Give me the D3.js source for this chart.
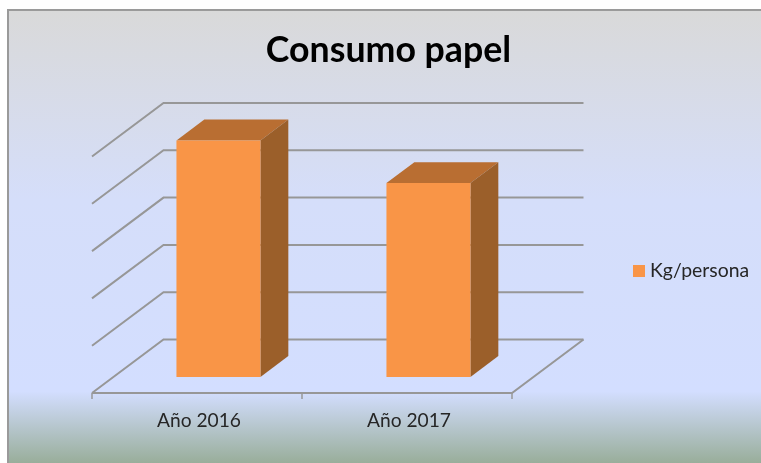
<!DOCTYPE html>
<html lang="en">
<head>
<meta charset="UTF-8">
<title>Consumo papel</title>
<script src="https://cdnjs.cloudflare.com/ajax/libs/d3/7.8.5/d3.min.js"></script>
<style>
    html, body { margin: 0; padding: 0; background: #fff; }
    svg { display: block; }
    text { font-family: Lato, "Open Sans", sans-serif; }
</style>
</head>
<body>
<script>
    // values, the axis has no labels so units are gridline steps
    const title = "Consumo papel"
    const seriesName = "Kg/persona"
    const categories = ["Año 2016", "Año 2017"]
    const values = [5.0, 4.1]
    const gridTicks = [0, 1, 2, 3, 4, 5]

    const width = 761
    const height = 463

    const svg = d3.select("body").append("svg")
        .attr("width", width)
        .attr("height", height)

    const defs = svg.append("defs")
    const bg = defs.append("linearGradient")
        .attr("id", "bg")
        .attr("x1", 0).attr("y1", 0).attr("x2", 0).attr("y2", 1)
    bg.append("stop").attr("offset", 0).attr("stop-color", "#d9d9d9")
    bg.append("stop").attr("offset", 0.42).attr("stop-color", "#d5defa")
    bg.append("stop").attr("offset", 0.84).attr("stop-color", "#d3deff")
    bg.append("stop").attr("offset", 1).attr("stop-color", "#98ad99")

    const soft = defs.append("filter").attr("id", "soft")
    soft.append("feGaussianBlur").attr("stdDeviation", 0.5)

    svg.append("rect")
        .attr("x", 8).attr("y", 10)
        .attr("width", width - 7).attr("height", height - 9)
        .attr("fill", "url(#bg)")
        .attr("stroke", "#9a9a9a")
        .attr("stroke-width", 2)

    // oblique projection: x along the floor front, v up, d from front (0) to back (1)
    const x = d3.scaleBand().domain(categories).range([92, 512])
    const y = d3.scaleLinear().domain([0, 5]).range([393, 156.5])
    const depth = d3.scaleLinear().domain([0, 1]).range([0, 71.5])
    const rise = d3.scaleLinear().domain([0, 1]).range([0, 53.5])
    const project = (px, v, d) => [px + depth(d), y(v) - rise(d)]
    const line = d3.line()

    const chart = svg.append("g").attr("filter", "url(#soft)")
    const grid = chart.append("g")
        .attr("fill", "none")
        .attr("stroke", "#979797")
        .attr("stroke-width", 2)

    const x0 = x.range()[0]
    const x1 = x.range()[1]

    // side wall and back wall gridlines
    grid.selectAll("path.grid")
        .data(gridTicks)
        .join("path")
        .attr("class", "grid")
        .attr("d", v => line([project(x0, v, 0), project(x0, v, 1), project(x1, v, 1)]))

    // floor edges
    grid.append("path").attr("d", line([project(x0, 0, 0), project(x1, 0, 0), project(x1, 0, 1)]))

    // category ticks
    grid.selectAll("path.tick")
        .data([x0, x0 + x.bandwidth(), x1])
        .join("path")
        .attr("class", "tick")
        .attr("stroke-width", 1.5)
        .attr("d", px => line([[px, y(0)], [px, y(0) + 6]]))

    // bars
    const barW = 84
    const dFront = 0.3
    const dBack = 0.69
    const bars = chart.selectAll("g.bar")
        .data(categories.map((c, i) => ({ c, v: values[i] })))
        .join("g")
        .attr("class", "bar")

    const left = d => x(d.c) + (x.bandwidth() - barW) / 2
    bars.append("path")
        .attr("fill", "#b96e30")
        .attr("d", d => line([
            project(left(d), d.v, dFront), project(left(d) + barW, d.v, dFront),
            project(left(d) + barW, d.v, dBack), project(left(d), d.v, dBack)
        ]) + "Z")
    bars.append("path")
        .attr("fill", "#9b5f2a")
        .attr("d", d => line([
            project(left(d) + barW, 0, dFront), project(left(d) + barW, 0, dBack),
            project(left(d) + barW, d.v, dBack), project(left(d) + barW, d.v, dFront)
        ]) + "Z")
    bars.append("path")
        .attr("fill", "#f99546")
        .attr("d", d => line([
            project(left(d), 0, dFront), project(left(d) + barW, 0, dFront),
            project(left(d) + barW, d.v, dFront), project(left(d), d.v, dFront)
        ]) + "Z")

    const labels = svg.append("g").attr("filter", "url(#soft)")

    labels.append("text")
        .attr("x", 388.5).attr("y", 62)
        .attr("text-anchor", "middle")
        .attr("font-size", 35.7)
        .attr("font-weight", 700)
        .attr("fill", "#000")
        .text(title)

    labels.selectAll("text.cat")
        .data(categories)
        .join("text")
        .attr("class", "cat")
        .attr("x", c => x(c) + x.bandwidth() / 2 + 2)
        .attr("y", 427)
        .attr("text-anchor", "middle")
        .attr("font-size", 19.2)
        .attr("fill", "#262626")
        .text(c => c)

    labels.append("rect")
        .attr("x", 633).attr("y", 265)
        .attr("width", 12).attr("height", 12)
        .attr("fill", "#f99546")

    labels.append("text")
        .attr("x", 650).attr("y", 277)
        .attr("font-size", 19.4)
        .attr("fill", "#262626")
        .text(seriesName)
</script>
</body>
</html>
